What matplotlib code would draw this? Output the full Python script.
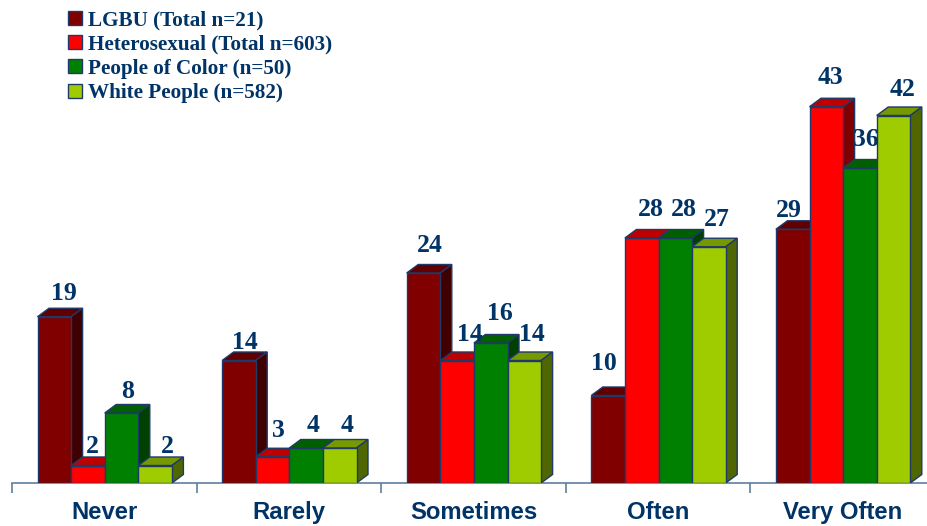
import numpy as np
import matplotlib
matplotlib.use('Agg')
import matplotlib.pyplot as plt
from matplotlib.patches import Patch, Polygon

categories = ['Never', 'Rarely', 'Sometimes', 'Often', 'Very Often']
series_names = ['LGBU (Total n=21)', 'Heterosexual (Total n=603)',
                'People of Color (n=50)', 'White People (n=582)']
lgbu = [19, 14, 24, 10, 29]
hetero = [2, 3, 14, 28, 43]
color_people = [8, 4, 16, 28, 36]
white_people = [2, 4, 14, 27, 42]
all_series = [lgbu, hetero, color_people, white_people]

# label nudges in pixels, from the bar centre / bar top
label_dx = [[10, 6, 6, -4, -4], [4, 6, 13, 9, 4], [6, 7, 9, 9, 6], [12, 7, 8, 8, 9]]
label_dy = [[23, 18, 27, 32, 19], [19, 26, 26, 29, 29], [22, 22, 29, 29, 28], [19, 22, 26, 27, 26]]

front = ['#800000', '#ff0000', '#008000', '#9fcc00']
top = ['#600000', '#bf0000', '#006000', '#779900']
side = ['#400000', '#800000', '#004000', '#506600']
edge = '#1f3a6a'
text_col = '#003366'

W, H = 927, 526
cat_px = 184.6
val_px = 8.75
left_px, base_px = 12, 483

fig = plt.figure(figsize=(W / 100, H / 100), dpi=100)
ax = fig.add_axes([left_px / W, (H - base_px) / H, (W - left_px) / W, base_px / H])
ax.set_xlim(0, (W - left_px) / cat_px)
ax.set_ylim(0, base_px / val_px)

for s in ['top', 'left', 'right']:
    ax.spines[s].set_visible(False)
ax.spines['bottom'].set_color('#5f7f9f')
ax.spines['bottom'].set_linewidth(1.2)
ax.set_yticks([])
ax.set_xticks(range(5))
ax.tick_params(axis='x', which='major', length=7, width=1.2, color='#5f7f9f', labelbottom=False)
ax.set_xticks(np.arange(5) + 0.5, categories, minor=True)
ax.tick_params(axis='x', which='minor', length=0, pad=13)
for t in ax.get_xticklabels(minor=True):
    t.set_fontfamily('Liberation Sans')
    t.set_fontweight('bold')
    t.set_fontsize(17.2)
    t.set_color(text_col)

bar_w = 33.6 / cat_px
start = 25.5 / cat_px
dx = 11.5 / cat_px
dy = 8.5 / val_px

for i, vals in enumerate(all_series):
    for j, v in enumerate(vals):
        x0 = j + start + i * bar_w
        x1 = x0 + bar_w
        z = 2 + i * 2
        ax.bar(x0, v, bar_w, align='edge', color=front[i], edgecolor=edge, linewidth=1, zorder=z + 1)
        ax.add_patch(Polygon([(x0, v), (x1, v), (x1 + dx, v + dy), (x0 + dx, v + dy)],
                             facecolor=top[i], edgecolor=edge, linewidth=1, zorder=z))
        ax.add_patch(Polygon([(x1, 0), (x1 + dx, dy), (x1 + dx, v + dy), (x1, v)],
                             facecolor=side[i], edgecolor=edge, linewidth=1, zorder=z))
        ax.annotate(str(v), (x0 + bar_w / 2, v), xytext=(label_dx[i][j] * 0.72, label_dy[i][j] * 0.72),
                    textcoords='offset points', ha='center', va='center', family='Liberation Serif',
                    fontweight='bold', fontsize=18.5, color=text_col, zorder=20)

handles = [Patch(facecolor=front[i], edgecolor=edge, linewidth=1) for i in range(4)]
ax.legend(handles, series_names, loc='upper left', bbox_to_anchor=((62 - left_px) / (W - left_px), 1.0 - 4 / base_px),
          frameon=False, handlelength=0.65, handleheight=0.65, handletextpad=0.28, labelspacing=0.2,
          borderpad=0.3, borderaxespad=0, labelcolor=text_col,
          prop={'family': 'Liberation Serif', 'weight': 'bold', 'size': 15.2})

fig.savefig('out.png', dpi=100)
